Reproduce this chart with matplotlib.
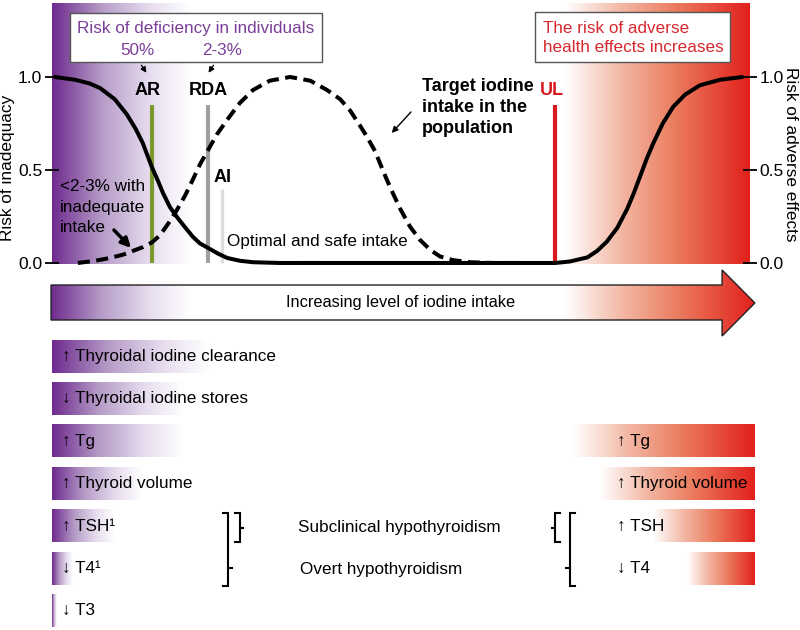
import matplotlib.pyplot as plt
import numpy as np
from matplotlib.colors import LinearSegmentedColormap
from matplotlib.patches import Polygon, Rectangle

plt.rcParams['font.family'] = ['Liberation Sans', 'DejaVu Sans']
plt.rcParams['font.size'] = 12.3

# intake runs on an arbitrary 0..100 scale
INADEQ_X = [0.4, 3.3, 5.4, 6.9, 9.0, 10.7, 12.0, 13.0, 14.3, 15.2, 15.9, 16.9, 17.9,
            19.1, 20.2, 21.2, 22.4, 23.8, 25.1, 26.9, 28.8, 32.7, 38.4]
INADEQ_Y = [1.0, 0.985, 0.965, 0.94, 0.88, 0.80, 0.72, 0.645, 0.516, 0.44, 0.376, 0.30,
            0.247, 0.19, 0.14, 0.105, 0.08, 0.05, 0.027, 0.012, 0.004, 0.0, 0.0]

ADVERSE_X = [35.5, 72.1, 74.2, 76.7, 78.1, 79.5, 81.0, 82.4, 83.4, 84.2, 85.2, 86.1,
             87.5, 89.0, 90.7, 92.8, 95.7, 98.9]
ADVERSE_Y = [0.0, 0.0, 0.008, 0.03, 0.065, 0.115, 0.19, 0.29, 0.38, 0.46, 0.56, 0.64,
             0.75, 0.84, 0.905, 0.955, 0.985, 1.0]

TARGET_X = [3.7, 6.2, 8.3, 10.2, 11.6, 13.0, 14.3, 15.5, 16.9, 17.9, 19.1, 20.2, 21.2,
            22.4, 23.6, 25.1, 26.9, 28.8, 31.2, 34.1, 37.0, 39.4, 41.3, 42.7, 44.1,
            45.1, 46.3, 47.0, 48.0, 48.9, 49.9, 51.3, 52.7, 54.2, 55.6, 57.5, 59.9,
            63.2, 66.6]
TARGET_Y = [0.0, 0.012, 0.027, 0.045, 0.065, 0.085, 0.11, 0.15, 0.225, 0.285, 0.365,
            0.45, 0.53, 0.61, 0.69, 0.77, 0.86, 0.93, 0.98, 1.0, 0.98, 0.93, 0.88, 0.82,
            0.74, 0.68, 0.60, 0.535, 0.445, 0.37, 0.29, 0.195, 0.125, 0.07, 0.035,
            0.015, 0.004, 0.0, 0.0]

# reference values on the intake scale and how high their markers go
REF_NAMES = ["AR", "RDA", "AI", "UL"]
REF_X = [14.3, 22.4, 24.4, 72.1]
REF_TOP = [0.85, 0.85, 0.40, 0.85]

# effects of deficiency (fade out as intake rises) and of excess
LOW_EFFECTS = ["\u2191 Thyroidal iodine clearance", "\u2193 Thyroidal iodine stores",
               "\u2191 Tg", "\u2191 Thyroid volume", "\u2191 TSH\u00b9", "\u2193 T4\u00b9",
               "\u2193 T3"]
LOW_END = [22.6, 18.8, 18.8, 13.0, 9.0, 2.9, 0.7]
HIGH_EFFECTS = ["\u2191 Tg", "\u2191 Thyroid volume", "\u2191 TSH", "\u2193 T4"]
HIGH_ROWS = [2, 3, 4, 5]
HIGH_START = [74.6, 78.5, 86.1, 91.0]
HIGH_END = 100.6

PURPLE = "#6e2a8e"
RED = "#e2201c"
purple_cmap = LinearSegmentedColormap.from_list(
    "p", [(0, PURPLE), (0.35, "#b49ac6"), (0.7, "#e6dcee"), (1, "#ffffff")])
red_cmap = LinearSegmentedColormap.from_list(
    "r", [(0, "#ffffff"), (0.3, "#f3b8a5"), (0.6, "#eb7b5e"), (1, RED)])
grad = np.linspace(0, 1, 256)[None, :]

fig = plt.figure(figsize=(8, 6.3), dpi=100)

# ---- top chart ----
ax = fig.add_axes([52 / 800, 0.5811, 698 / 800, 0.4148])
ax.imshow(grad, cmap=purple_cmap, extent=(0, 19.8, -0.005, 1.40), aspect="auto", zorder=0)
ax.imshow(grad, cmap=red_cmap, extent=(73.5, 100, -0.005, 1.40), aspect="auto", zorder=0)

ax.plot(INADEQ_X, INADEQ_Y, color="black", lw=2.9, solid_capstyle="round", zorder=4, clip_on=False)
ax.plot(ADVERSE_X, ADVERSE_Y, color="black", lw=2.9, solid_capstyle="round", zorder=4, clip_on=False)
ax.plot(TARGET_X, TARGET_Y, color="black", lw=2.9, ls=(0, (3, 1.6)), zorder=4, clip_on=False)

ref_colors = ["#7a9a2e", "#a0a0a0", "#dcdcdc", "#d8191e"]
ref_lw = [3.0, 3.0, 2.4, 3.0]
for name, xv, top, c, w in zip(REF_NAMES, REF_X, REF_TOP, ref_colors, ref_lw):
    ax.plot([xv, xv], [0, top], color=c, lw=w, solid_capstyle="butt", zorder=3)
ax.text(13.75, 0.93, "AR", ha="center", va="center", fontweight="bold", fontsize=13)
ax.text(22.35, 0.93, "RDA", ha="center", va="center", fontweight="bold", fontsize=13)
ax.text(24.5, 0.457, "AI", ha="center", va="center", fontweight="bold", fontsize=13)
ax.text(71.6, 0.93, "UL", ha="center", va="center", fontweight="bold", fontsize=13, color="#d8191e")

# boxes
ax.add_patch(Rectangle((2.58, 1.08), 36.1, 0.264, facecolor="white", edgecolor="#555555", lw=1, zorder=5))
ax.text(20.6, 1.263, "Risk of deficiency in individuals", ha="center", va="center", color="#7b3f98", zorder=6)
ax.text(12.3, 1.143, "50%", ha="center", va="center", color="#7b3f98", zorder=6)
ax.text(24.4, 1.143, "2-3%", ha="center", va="center", color="#7b3f98", zorder=6)
ax.annotate("", xy=(13.75, 1.01), xytext=(12.6, 1.075),
            arrowprops=dict(arrowstyle="-|>", color="black", lw=1, mutation_scale=8), zorder=6)
ax.annotate("", xy=(22.2, 1.01), xytext=(23.35, 1.075),
            arrowprops=dict(arrowstyle="-|>", color="black", lw=1, mutation_scale=8), zorder=6)

ax.add_patch(Rectangle((69.2, 1.08), 27.9, 0.27, facecolor="white", edgecolor="#555555", lw=1, zorder=5))
ax.text(70.3, 1.263, "The risk of adverse", ha="left", va="center", color="#d7282f", zorder=6)
ax.text(70.3, 1.156, "health effects increases", ha="left", va="center", color="#d7282f", zorder=6)

ax.text(53.0, 0.995, "Target iodine\nintake in the\npopulation", ha="left", va="top",
        fontweight="bold", fontsize=13, linespacing=1.3)
ax.annotate("", xy=(48.4, 0.688), xytext=(51.7, 0.823),
            arrowprops=dict(arrowstyle="-|>", color="black", lw=1, mutation_scale=9))

ax.text(1.15, 0.45, "<2-3% with\ninadequate\nintake", ha="left", va="top", linespacing=1.45, zorder=6)
ax.annotate("", xy=(11.6, 0.07), xytext=(8.6, 0.188),
            arrowprops=dict(arrowstyle="-|>", color="black", lw=2.5, mutation_scale=14), zorder=6)
ax.text(25.07, 0.113, "Optimal and safe intake", ha="left", va="center", zorder=6)

ax.set_xlim(0, 100)
ax.set_ylim(-0.005, 1.40)
ax.set_xticks([])
ax.set_yticks([0, 0.5, 1.0])
ax.set_yticklabels(["0.0", "0.5", "1.0"])
ax.tick_params(axis="y", direction="inout", length=10, width=1.3, labelsize=12.5, pad=2)
for s in ax.spines.values():
    s.set_visible(False)

ax2 = ax.twinx()
ax2.set_ylim(-0.005, 1.40)
ax2.set_yticks([0, 0.5, 1.0])
ax2.set_yticklabels(["0.0", "0.5", "1.0"])
ax2.tick_params(axis="y", direction="inout", length=10, width=1.3, labelsize=12.5, pad=2)
for s in ax2.spines.values():
    s.set_visible(False)

fig.text(8 / 800, 1 - 168 / 630, "Risk of inadequacy", rotation=90, ha="center", va="center", fontsize=12.4)
fig.text(790 / 800, 1 - 154 / 630, "Risk of adverse effects", rotation=270, ha="center", va="center", fontsize=12.4)

# ---- arrow and effect bars ----
bx = fig.add_axes([0, 0, 1, 365 / 630])
bx.set_axis_off()

arrow = Polygon([(-0.14, -1.686), (96.0, -1.686), (96.0, -2.04), (100.7, -1.262),
                 (96.0, -0.483), (96.0, -0.861), (-0.14, -0.861)],
                closed=True, facecolor="none", edgecolor="#222222", lw=1, zorder=3)
bx.add_patch(arrow)
im = bx.imshow(grad, cmap=purple_cmap, extent=(-0.14, 19.8, -0.483, -2.04), aspect="auto", zorder=1)
im.set_clip_path(arrow)
im = bx.imshow(grad, cmap=red_cmap, extent=(73.5, 100.7, -0.483, -2.04), aspect="auto", zorder=1)
im.set_clip_path(arrow)
bx.text(49.9, -1.28, "Increasing level of iodine intake", ha="center", va="center", fontsize=11.8, zorder=4)

h = 0.755
for i, (lab, end) in enumerate(zip(LOW_EFFECTS, LOW_END)):
    bx.imshow(grad, cmap=purple_cmap, extent=(0, end, i + h / 2, i - h / 2), aspect="auto", zorder=1)
    bx.text(1.43, i, lab, ha="left", va="center", zorder=3)
for row, lab, start in zip(HIGH_ROWS, HIGH_EFFECTS, HIGH_START):
    bx.imshow(grad, cmap=red_cmap, extent=(start, HIGH_END, row + h / 2, row - h / 2), aspect="auto", zorder=1)
    bx.text(80.9, row, lab, ha="left", va="center", zorder=3)

# brackets grouping TSH/T4 into hypothyroidism types
def bracket(pts):
    xs, ys = zip(*pts)
    bx.plot(xs, ys, color="black", lw=1.5, solid_joinstyle="miter")

top, mid, bot, low = 3.69, 4.04, 4.37, 5.41
bracket([(24.5, top), (25.2, top), (25.2, low), (24.5, low)])
bx.plot([25.2, 25.8], [4.99, 4.99], color="black", lw=1.5)
bracket([(26.2, top), (26.9, top), (26.9, mid), (27.5, mid), (26.9, mid), (26.9, bot), (26.2, bot)])
bracket([(72.8, top), (72.1, top), (72.1, mid), (71.5, mid), (72.1, mid), (72.1, bot), (72.8, bot)])
bracket([(74.9, top), (74.2, top), (74.2, low), (74.9, low)])
bx.plot([74.2, 73.6], [4.99, 4.99], color="black", lw=1.5)

bx.text(35.2, 4.04, "Subclinical hypothyroidism", ha="left", va="center")
bx.text(35.5, 5.03, "Overt hypothyroidism", ha="left", va="center")

bx.set_xlim(-7.45, 107.16)
bx.set_ylim(6.45, -2.158)

fig.savefig("out.png", dpi=100)
